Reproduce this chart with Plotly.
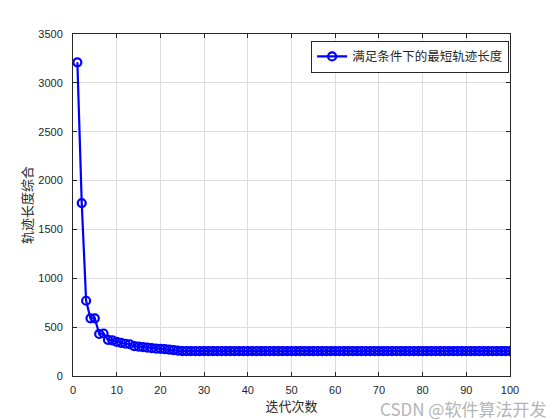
import plotly.graph_objects as go

iterations = list(range(1, 101))
lengths = [3210, 1770, 770, 590, 590, 430, 435, 370, 365, 350,
           340, 330, 325, 305, 300, 295, 290, 285, 280, 278,
           275, 270, 265, 260] + [255] * 76

series_name = "满足条件下的最短轨迹长度"
x_title = "迭代次数"
y_title = "轨迹长度综合"
watermark = "CSDN @软件算法开发"

fig = go.Figure()
fig.add_trace(go.Scatter(
    x=iterations, y=lengths, mode="lines+markers", name=series_name,
    line=dict(color="#0000ff", width=2.2),
    marker=dict(symbol="circle-open", size=8, color="#0000ff", line=dict(width=2.2, color="#0000ff")),
))

axis_common = dict(
    showline=True, linecolor="#262626", linewidth=1, mirror="ticks",
    ticks="inside", ticklen=4, tickcolor="#262626",
    showgrid=True, gridcolor="#dcdcdc", gridwidth=1, zeroline=False,
    tickfont=dict(family="Liberation Sans, Arial", size=11, color="#262626"),
)
fig.update_xaxes(range=[0, 100], dtick=10, ticklabelstandoff=4,
                 title=dict(text=x_title, font=dict(family="Noto Sans CJK SC", size=13, color="#262626"), standoff=4),
                 **axis_common)
fig.update_yaxes(range=[0, 3500], dtick=500, ticklabelstandoff=7,
                 title=dict(text=y_title, font=dict(family="Noto Sans CJK SC", size=13, color="#262626"), standoff=2),
                 **axis_common)

fig.update_layout(
    width=560, height=420,
    margin=dict(l=65, r=58, t=26, b=52),
    paper_bgcolor="white", plot_bgcolor="white",
    showlegend=True,
    legend=dict(x=0.998, y=0.98, xanchor="right", yanchor="top",
                bgcolor="white", bordercolor="#262626", borderwidth=1,
                font=dict(family="Noto Sans CJK SC", size=12.5, color="#262626"),
                tracegroupgap=0),
    annotations=[dict(text=watermark, x=1.0, y=0.0, xref="paper", yref="paper",
                      xanchor="right", yanchor="top", xshift=37, yshift=-19,
                      borderpad=0, showarrow=False,
                      font=dict(family="Noto Sans CJK SC, Liberation Sans", size=17, color="#b4b4b4"))],
)
fig.write_html("out.html")
